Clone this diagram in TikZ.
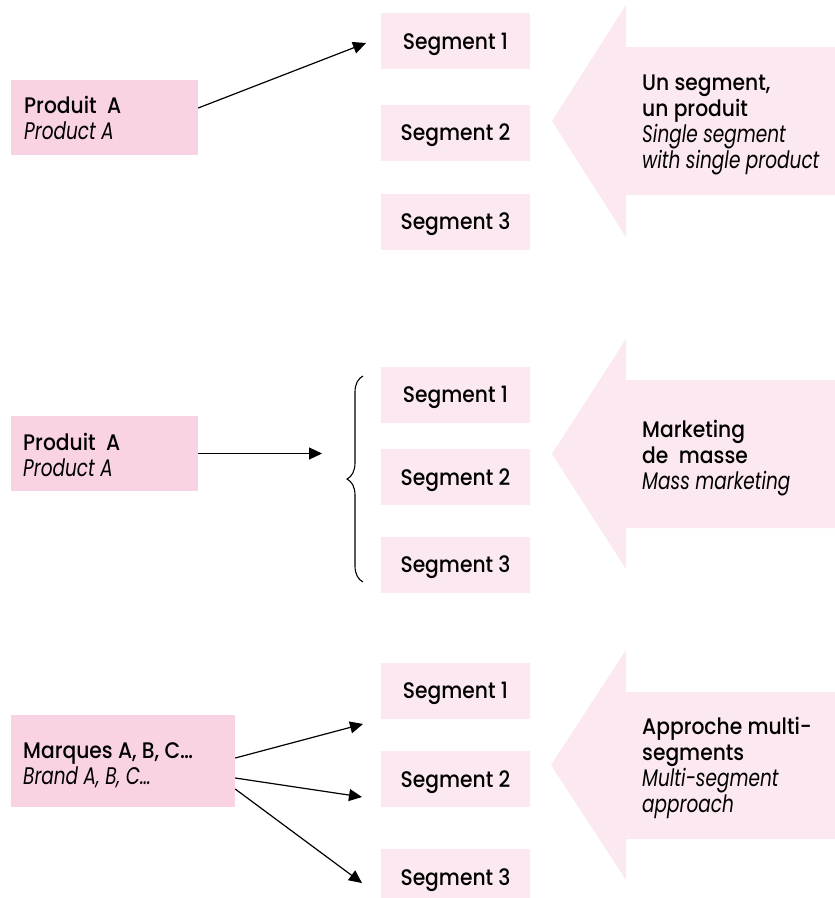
\documentclass[tikz,border=0pt]{standalone}
\usepackage{fontspec}
\setmainfont{Poppins}[UprightFont=* Medium, ItalicFont=* Italic, UprightFeatures={FakeStretch=0.9}, ItalicFeatures={FakeStretch=0.77}]
\usetikzlibrary{arrows.meta,decorations.pathreplacing}
\definecolor{segpink}{RGB}{252,232,240}
\definecolor{srcpink}{RGB}{249,211,228}
\newcommand\engl[1]{{\fontsize{24}{26}\selectfont\itshape #1}}
\tikzset{
  seg/.style={fill=segpink, minimum width=149pt, minimum height=56pt, inner sep=0pt, text height=18pt, text depth=2pt, font=\fontsize{22.5}{26}\selectfont},
  src/.style={fill=srcpink, inner sep=0pt},
  txt/.style={anchor=base west, align=left, inner sep=0pt, font=\fontsize{22.5}{26}\selectfont},
  arr/.style={-{Triangle[length=13pt,width=12pt]}, line width=1.2pt},
  bigarrow/.style={fill=segpink},
  bracestyle/.style={decorate, decoration={brace, amplitude=16pt, aspect=0.5}, line width=1.1pt}
}
\begin{document}
\begin{tikzpicture}[x=1pt,y=-1pt]
\clip (0,0) rectangle (835,898);
\fill[white] (0,0) rectangle (835,898);

% ---------- big arrows ----------
\fill[bigarrow] (552,121) -- (626,5) -- (626,47) -- (835,47) -- (835,195) -- (626,195) -- (626,237) -- cycle;
\fill[bigarrow] (552,454) -- (626,339) -- (626,380) -- (835,380) -- (835,528) -- (626,528) -- (626,569) -- cycle;
\fill[bigarrow] (551,765) -- (626,650) -- (626,692) -- (835,692) -- (835,839) -- (626,839) -- (626,880) -- cycle;

% text nodes: anchor is the baseline of the last line
\node[txt] (t1) at (642,168) {Un segment,\\un produit\\\engl{Single segment}\\\engl{with single product}};
\node[txt] (t2) at (642,489) {Marketing\\de\ \ masse\\\engl{Mass marketing}};
\node[txt] (t3) at (642,812) {Approche multi-\\segments\\\engl{Multi-segment}\\\engl{approach}};

% ---------- section 1 ----------
\node[src, minimum width=187pt, minimum height=75pt] (src1) at (104.5,117.5) {};
\node[txt] (l1) at (24,139) {Produit\ \ A\\\engl{Product A}};
\node[seg] (s11) at (455.5,41) {Segment 1};
\node[seg] (s12) at (455.5,132.5) {Segment 2};
\node[seg] (s13) at (455.5,221.5) {Segment 3};
\coordinate (e11) at (366,43);
\draw[arr] ([yshift=9.5pt]src1.east) -- (e11);

% ---------- section 2 ----------
\node[src, minimum width=187pt, minimum height=75pt] (src2) at (104.5,453.5) {};
\node[txt] (l2) at (23,476) {Produit\ \ A\\\engl{Product A}};
\node[seg] (s21) at (455.5,394.5) {Segment 1};
\node[seg] (s22) at (455.5,477) {Segment 2};
\node[seg] (s23) at (455.5,564.5) {Segment 3};
\coordinate (e21) at (322,453.5);
\draw[arr] (src2.east) -- (e21);
\coordinate (bb) at (363,582);
\coordinate (bt) at (363,376);
\draw[bracestyle] (bb) -- (bt);

% ---------- section 3 ----------
\node[src, minimum width=224pt, minimum height=92pt] (src3) at (123,761) {};
\node[txt] (l3) at (23,784) {Marques A, B, C…\\\engl{Brand A, B, C…}};
\node[seg] (s31) at (455.5,690.5) {Segment 1};
\node[seg] (s32) at (455.5,779) {Segment 2};
\node[seg] (s33) at (455.5,877) {Segment 3};
\coordinate (e31) at (363,724);
\coordinate (e32) at (362,797);
\coordinate (e33) at (362,883);
\draw[arr] ([yshift=3pt]src3.east) -- (e31);
\draw[arr] ([yshift=-17pt]src3.east) -- (e32);
\draw[arr] ([yshift=-28pt]src3.east) -- (e33);
\end{tikzpicture}
\end{document}
